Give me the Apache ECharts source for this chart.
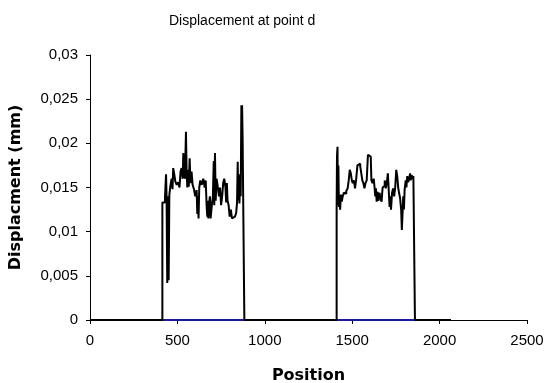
<!DOCTYPE html>
<html>
<head>
<meta charset="utf-8">
<script src="https://cdn.jsdelivr.net/npm/echarts@6/dist/echarts.min.js"></script>
<style>
  html, body { margin: 0; padding: 0; background: #fff; }
  #chart { width: 547px; height: 383px; }
</style>
</head>
<body>
<div id="chart"></div>
<script>
// position along the beam and displacement at point d (mm)
const positions = [
  0, 414, 429, 435, 438, 442, 446, 450, 454, 460, 467, 472, 476, 482, 488, 496, 505, 512, 518, 524,
  530, 534, 538, 543, 549, 553, 557, 561, 565, 570, 575, 581, 587, 595, 602, 610, 614, 618, 621, 625,
  631, 639, 648, 656, 662, 667, 671, 674, 677, 681, 686, 690, 696, 703, 708, 711, 715, 719, 724, 730,
  738, 744, 750, 756, 762, 768, 775, 779, 783, 787, 793, 799, 806, 812, 820, 829, 836, 841, 845, 848,
  851, 855, 859, 862, 866, 868, 870, 873, 883,
  1411, 1413, 1416, 1418, 1421, 1424, 1427, 1431, 1435, 1440, 1446, 1452, 1460, 1466, 1474, 1480, 1486,
  1492, 1498, 1503, 1510, 1516, 1522, 1530, 1538, 1546, 1552, 1558, 1564, 1570, 1576, 1583, 1590, 1598,
  1606, 1610, 1616, 1623, 1628, 1632, 1636, 1640, 1645, 1650, 1656, 1662, 1668, 1674, 1680, 1686, 1692,
  1698, 1704, 1710, 1714, 1718, 1722, 1728, 1734, 1740, 1746, 1752, 1758, 1763, 1768, 1774, 1780, 1784,
  1788, 1792, 1796, 1800, 1806, 1810, 1815, 1820, 1826, 1831, 1835, 1840, 1846, 1850, 1859, 2065
]
const displacement = [
  0, 0.0133, 0.0139, 0.0165, 0.0140, 0.0042, 0.0140, 0.0045, 0.0142, 0.0152, 0.0160, 0.0148, 0.0172, 0.0165, 0.0157, 0.0153, 0.0156, 0.0150, 0.0168, 0.0172,
  0.0160, 0.0189, 0.0166, 0.0160, 0.0213, 0.0165, 0.0150, 0.0170, 0.0151, 0.0183, 0.0155, 0.0168, 0.0153, 0.0148, 0.0140, 0.0147, 0.0120, 0.0140, 0.0115, 0.0150,
  0.0158, 0.0153, 0.0160, 0.0150, 0.0158, 0.0130, 0.0117, 0.0135, 0.0115, 0.0132, 0.0140, 0.0115, 0.0128, 0.0140, 0.0180, 0.0130, 0.0189, 0.0135, 0.0160, 0.0152,
  0.0140, 0.0150, 0.0130, 0.0140, 0.0155, 0.0160, 0.0150, 0.0133, 0.0155, 0.0135, 0.0130, 0.0117, 0.0125, 0.0115, 0.0117, 0.0115, 0.0121, 0.0132, 0.0179, 0.0135,
  0.0165, 0.0132, 0.0158, 0.0140, 0.0243, 0.0225, 0.0243, 0.0207, 0,
  0.0127, 0.0185, 0.0196, 0.0130, 0.0175, 0.0128, 0.0140, 0.0125, 0.0142, 0.0134, 0.0140, 0.0144, 0.0143, 0.0146, 0.0149, 0.0158, 0.0170,
  0.0166, 0.0158, 0.0155, 0.0158, 0.0149, 0.0158, 0.0175, 0.0177, 0.0174, 0.0166, 0.0158, 0.0155, 0.0149, 0.0155, 0.0158, 0.0187, 0.0185,
  0.0187, 0.0158, 0.0155, 0.0160, 0.0150, 0.0140, 0.0149, 0.0134, 0.0145, 0.0135, 0.0144, 0.0138, 0.0134, 0.0150, 0.0152, 0.0158, 0.0149,
  0.0155, 0.0166, 0.0164, 0.0128, 0.0140, 0.0125, 0.0144, 0.0149, 0.0140, 0.0150, 0.0170, 0.0162, 0.0150, 0.0144, 0.0138, 0.0125, 0.0102,
  0.0120, 0.0140, 0.0125, 0.0148, 0.0158, 0.0150, 0.0163, 0.0156, 0.0160, 0.0166, 0.0158, 0.0164, 0.0160, 0.0163, 0, 0
]
// the blue reference series lying on zero under the loaded zones
const basePositions = [414, 883, 1000, 1411, 1859]
const baseValues = [0, 0, '-', 0, 0]

const chart = echarts.init(document.getElementById('chart'))

const tickFont = { color: '#000', fontSize: 15, fontFamily: 'Liberation Sans, Arial' }

const option = {
  animation: false,
  title: {
    text: 'Displacement at point d',
    left: 164,
    top: 9,
    textStyle: { fontSize: 14, fontWeight: 'normal', color: '#000', fontFamily: 'Liberation Sans, Arial' }
  },
  grid: { left: 90, right: 20, top: 55, bottom: 63, outerBoundsMode: 'none' },
  xAxis: {
    type: 'value',
    min: 0,
    max: 2500,
    interval: 500,
    name: 'Position',
    nameLocation: 'middle',
    nameGap: 48,
    nameTextStyle: { fontSize: 16, fontWeight: 'bold', color: '#000', fontFamily: 'DejaVu Sans' },
    axisLine: { lineStyle: { color: '#000', width: 1 } },
    axisTick: { show: true, length: 4, lineStyle: { color: '#000' } },
    axisLabel: Object.assign({ margin: 13, formatter: v => String(v) }, tickFont),
    splitLine: { show: false }
  },
  yAxis: {
    type: 'value',
    min: 0,
    max: 0.03,
    interval: 0.005,
    name: 'Displacment (mm)',
    nameLocation: 'middle',
    nameGap: 66,
    nameTextStyle: { fontSize: 16, fontWeight: 'bold', color: '#000', fontFamily: 'DejaVu Sans' },
    axisLine: { show: true, lineStyle: { color: '#000', width: 1 } },
    axisTick: { show: true, length: 4, lineStyle: { color: '#000' } },
    axisLabel: Object.assign({
      margin: 12,
      formatter: v => String(Number(v.toFixed(3))).replace('.', ',')
    }, tickFont),
    splitLine: { show: false }
  },
  series: [
    {
      type: 'line',
      data: basePositions.map((p, i) => [p, baseValues[i]]),
      showSymbol: false,
      lineStyle: { color: '#1a1aa0', width: 2 },
      z: 1
    },
    {
      type: 'line',
      step: 'end',
      data: positions.map((p, i) => [p, displacement[i]]),
      showSymbol: false,
      lineStyle: { color: '#000', width: 2 },
      z: 2
    }
  ]
}

chart.setOption(option)
</script>
</body>
</html>
